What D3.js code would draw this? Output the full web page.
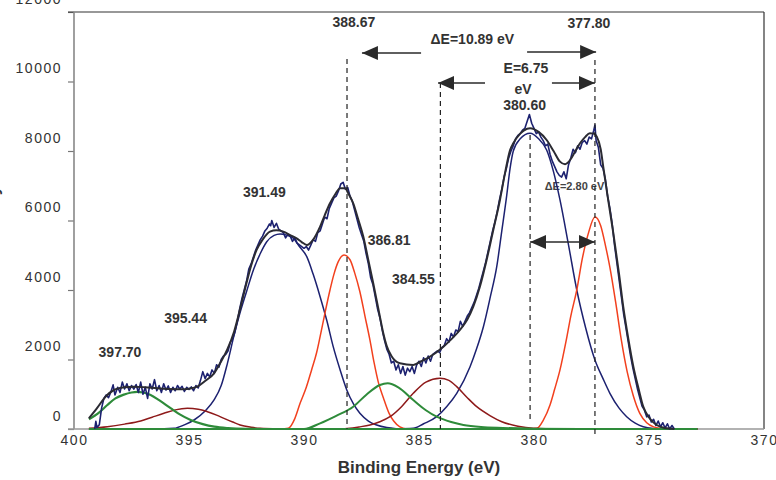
<!DOCTYPE html>
<html>
<head>
<meta charset="utf-8">
<script src="https://cdn.jsdelivr.net/npm/d3@7"></script>
<style>
  body { margin: 0; background: #fff; }
  svg { display: block; }
  text { font-family: Arial, "Liberation Sans", sans-serif; }
</style>
</head>
<body>
<div id="chart"></div>
<script>
// XPS spectrum with fitted components

const xTicks = [400, 395, 390, 385, 380, 375, 370];
const yTicks = [0, 2000, 4000, 6000, 8000, 10000, 12000];

// measured spectrum [binding energy, counts]
const rawData = [
  [399.1, 0], [399.05, 220], [399.0, 40], [398.9, 120], [398.8, 600], [398.7, 880], [398.6, 980],
  [398.5, 900], [398.4, 1060], [398.3, 1270], [398.22, 980], [398.1, 1200], [398.0, 1050],
  [397.9, 1350], [397.8, 1150], [397.7, 1300], [397.6, 1100], [397.5, 1250], [397.4, 1150],
  [397.3, 1280], [397.2, 1050], [397.1, 1350], [397.0, 1000], [396.9, 1200], [396.8, 880],
  [396.7, 1300], [396.6, 1150], [396.5, 1420], [396.4, 1100], [396.3, 1250], [396.2, 1050],
  [396.1, 1300], [396.0, 1120], [395.9, 1240], [395.8, 1050], [395.7, 1200], [395.6, 1100],
  [395.5, 1250], [395.4, 1150], [395.3, 1230], [395.2, 1080], [395.1, 1200], [395.0, 1140],
  [394.9, 1210], [394.8, 1100], [394.7, 1250], [394.6, 1180], [394.5, 1400], [394.4, 1650],
  [394.3, 1450], [394.2, 1600], [394.1, 1500], [394.0, 1700], [393.9, 1600], [393.8, 1850],
  [393.7, 1780], [393.6, 2000], [393.5, 2100], [393.4, 2150], [393.3, 2250], [393.2, 2500],
  [393.1, 2600], [393.0, 2800], [392.9, 3100], [392.8, 3450], [392.7, 3750], [392.6, 4000],
  [392.5, 4250], [392.4, 4600], [392.3, 4750], [392.2, 4950], [392.1, 5150], [392.0, 5300],
  [391.9, 5450], [391.8, 5550], [391.7, 5700], [391.6, 5780], [391.5, 5900], [391.45, 5850],
  [391.4, 6000], [391.3, 5800], [391.2, 5920], [391.1, 5750], [391.0, 5700], [390.9, 5650],
  [390.8, 5500], [390.7, 5600], [390.6, 5550], [390.5, 5400], [390.4, 5500], [390.3, 5350],
  [390.2, 5300], [390.1, 5250], [390.0, 5200], [389.9, 5250], [389.8, 5150], [389.7, 5300],
  [389.6, 5450], [389.5, 5400], [389.4, 5650], [389.3, 5700], [389.2, 5900], [389.1, 6100],
  [389.0, 6050], [388.9, 6350], [388.8, 6500], [388.7, 6650], [388.6, 6700], [388.5, 6850],
  [388.4, 7050], [388.3, 7100], [388.2, 6900], [388.1, 6950], [388.0, 6700], [387.9, 6550],
  [387.8, 6300], [387.7, 6050], [387.6, 5800], [387.5, 5600], [387.4, 5400], [387.3, 5050],
  [387.2, 4750], [387.1, 4350], [387.0, 4150], [386.9, 3800], [386.8, 3450], [386.7, 3200],
  [386.6, 2850], [386.5, 2550], [386.4, 2300], [386.3, 2150], [386.2, 1900], [386.1, 1950],
  [386.0, 1700], [385.9, 1850], [385.8, 1600], [385.7, 1800], [385.6, 1550], [385.5, 1750],
  [385.4, 1650], [385.3, 1800], [385.2, 1600], [385.1, 1850], [385.0, 1950], [384.9, 1800],
  [384.8, 2050], [384.7, 1900], [384.6, 2100], [384.5, 1950], [384.4, 2150], [384.3, 2200],
  [384.2, 2250], [384.1, 2200], [384.0, 2350], [383.9, 2400], [383.8, 2600], [383.7, 2500],
  [383.6, 2750], [383.5, 2650], [383.4, 2850], [383.3, 2800], [383.2, 3100], [383.1, 2950],
  [383.0, 3100], [382.9, 3250], [382.8, 3350], [382.7, 3500], [382.6, 3650], [382.5, 3850],
  [382.4, 4050], [382.3, 4300], [382.2, 4550], [382.1, 4800], [382.0, 5100], [381.9, 5400],
  [381.8, 5700], [381.7, 5950], [381.6, 6250], [381.5, 6600], [381.4, 6900], [381.3, 7250],
  [381.2, 7500], [381.1, 7800], [381.0, 8000], [380.9, 8150], [380.8, 8350], [380.7, 8450],
  [380.6, 8500], [380.5, 8600], [380.4, 8650], [380.3, 8850], [380.2, 9050], [380.1, 8800],
  [380.0, 8650], [379.9, 8500], [379.8, 8550], [379.7, 8400], [379.6, 8300], [379.5, 8150],
  [379.4, 8200], [379.3, 7900], [379.2, 7700], [379.1, 7550], [379.0, 7400], [378.9, 7300],
  [378.8, 7250], [378.7, 7400], [378.6, 7200], [378.5, 7600], [378.4, 7800], [378.3, 8050],
  [378.2, 7950], [378.1, 8150], [378.0, 8050], [377.9, 8250], [377.8, 8300], [377.7, 8200],
  [377.6, 8400], [377.5, 8350], [377.4, 8600], [377.35, 8750], [377.3, 8300], [377.2, 8100],
  [377.1, 7600], [377.0, 7500], [376.9, 7200], [376.8, 6700], [376.7, 6350], [376.6, 5900],
  [376.5, 5300], [376.4, 4800], [376.3, 4300], [376.2, 3800], [376.1, 3300], [376.0, 2900],
  [375.9, 2500], [375.8, 2100], [375.7, 1750], [375.6, 1450], [375.5, 1150], [375.4, 900],
  [375.3, 650], [375.2, 550], [375.1, 350], [375.0, 400], [374.9, 200], [374.8, 280],
  [374.7, 100], [374.6, 230], [374.5, 60], [374.4, 180], [374.3, 30], [374.2, 150],
  [374.1, 0], [374.0, 100], [373.9, 0]
];

// fitted envelope
const envelope = [
  [399.35, 307], [399.0, 600], [398.6, 950], [398.26, 1122], [397.8, 1200], [397.39, 1218],
  [396.9, 1200], [396.38, 1170], [395.9, 1150], [395.36, 1141], [395.0, 1160], [394.64, 1218],
  [394.3, 1380], [393.91, 1603], [393.6, 1950], [393.33, 2300], [393.04, 2800], [392.78, 3450],
  [392.5, 4200], [392.3, 4700], [392.06, 5152], [391.8, 5450], [391.48, 5680], [391.2, 5720],
  [390.9, 5680], [390.6, 5580], [390.32, 5488], [390.1, 5380], [389.88, 5296], [389.6, 5450],
  [389.3, 5822], [389.1, 6150], [388.87, 6496], [388.65, 6750], [388.43, 6928], [388.22, 6928],
  [388.05, 6750], [387.86, 6496], [387.65, 6050], [387.42, 5534], [387.2, 4850], [386.99, 4193],
  [386.84, 3700], [386.7, 3232], [386.55, 2750], [386.41, 2400], [386.2, 2100], [385.83, 1890],
  [385.25, 1842], [384.9, 1950], [384.52, 2081], [383.94, 2369], [383.6, 2580], [383.22, 2849],
  [382.9, 3150], [382.64, 3520], [382.35, 4100], [382.06, 4864], [381.78, 5700], [381.48, 6591],
  [381.25, 7400], [381.04, 8030], [380.9, 8222], [380.6, 8500], [380.3, 8640], [380.17, 8654],
  [379.8, 8550], [379.45, 8317], [379.15, 8000], [378.87, 7693], [378.65, 7620], [378.43, 7741],
  [378.2, 8000], [378.0, 8222], [377.78, 8400], [377.57, 8510], [377.4, 8500], [377.27, 8413],
  [377.1, 8050], [376.99, 7549], [376.8, 6700], [376.55, 5632], [376.3, 4450], [376.12, 3520],
  [375.9, 2600], [375.68, 1793], [375.45, 1150], [375.25, 642], [375.0, 330], [374.67, 115],
  [374.3, 30], [373.9, 0]
];

// fitted components
const blue1 = [
  [399.35, 0], [396.5, 0], [395.65, 20], [395.2, 120], [394.78, 259], [394.3, 520], [393.91, 835],
  [393.6, 1250], [393.33, 1890], [393.04, 2700], [392.8, 3300], [392.5, 3950], [392.2, 4576],
  [391.9, 5050], [391.62, 5390], [391.3, 5570], [391.04, 5612], [390.75, 5580], [390.46, 5488],
  [390.2, 5250], [389.88, 4959], [389.6, 4450], [389.3, 3808], [389.0, 3100], [388.73, 2369],
  [388.43, 1700], [388.14, 1122], [387.85, 720], [387.57, 451], [387.2, 230], [386.84, 115],
  [386.4, 40], [386.0, 10], [385.5, 0], [372.9, 0]
];
const blue2 = [
  [399.35, 0], [387.0, 0], [386.0, 5], [385.25, 20], [384.8, 150], [384.23, 354], [383.8, 640],
  [383.36, 1027], [382.78, 1793], [382.5, 2300], [382.2, 2944], [381.9, 3800], [381.62, 4671],
  [381.4, 5700], [381.19, 6700], [381.04, 7500], [380.9, 8000], [380.6, 8350], [380.17, 8510],
  [379.8, 8350], [379.45, 8030], [379.15, 7400], [378.87, 6591], [378.5, 5300], [378.14, 4000],
  [377.75, 2900], [377.35, 1986], [377.0, 1450], [376.7, 1027], [376.3, 600], [375.97, 354],
  [375.6, 170], [375.25, 66], [374.8, 15], [374.3, 0], [372.9, 0]
];
const red1 = [
  [399.35, 0], [391.0, 0], [390.68, 20], [390.4, 300], [390.17, 740], [389.9, 1200], [389.67, 1700],
  [389.45, 2200], [389.3, 2656], [389.1, 3300], [388.87, 4000], [388.7, 4450], [388.51, 4815],
  [388.26, 5008], [388.0, 4870], [387.8, 4500], [387.57, 3950], [387.35, 3250], [387.13, 2550],
  [386.95, 1900], [386.77, 1350], [386.55, 900], [386.3, 450], [386.1, 230], [385.83, 60],
  [385.5, 0], [372.9, 0]
];
const red2 = [
  [399.35, 0], [380.2, 0], [379.87, 20], [379.6, 250], [379.3, 700], [379.1, 1150], [378.87, 1700],
  [378.6, 2550], [378.4, 3250], [378.14, 4000], [377.9, 4900], [377.65, 5600], [377.35, 6100],
  [377.1, 5850], [376.9, 5300], [376.7, 4650], [376.45, 3650], [376.2, 2550], [375.95, 1650],
  [375.68, 950], [375.4, 450], [375.1, 180], [374.8, 60], [374.5, 15], [374.2, 0], [372.9, 0]
];
const darkred1 = [
  [399.35, 20], [398.55, 66], [397.8, 140], [397.1, 230], [396.6, 340], [396.09, 451], [395.6, 550],
  [395.07, 596], [394.6, 570], [394.2, 498], [393.8, 400], [393.48, 307], [393.1, 200], [392.78, 115],
  [392.3, 50], [391.91, 20], [391.0, 5], [390.0, 0], [372.9, 0]
];
const darkred2 = [
  [399.35, 0], [388.5, 0], [387.6, 60], [387.13, 115], [386.7, 210], [386.26, 354], [385.75, 650],
  [385.25, 1027], [384.7, 1350], [384.09, 1459], [383.7, 1400], [383.36, 1218], [382.9, 900],
  [382.49, 642], [381.9, 380], [381.4, 210], [380.7, 80], [380.03, 20], [379.0, 0], [372.9, 0]
];
const green1 = [
  [399.35, 280], [398.9, 480], [398.55, 690], [398.2, 880], [397.83, 990], [397.5, 1050],
  [397.25, 1070], [397.0, 1050], [396.67, 980], [396.3, 830], [395.8, 600], [395.4, 420],
  [394.93, 260], [394.4, 140], [393.9, 66], [393.3, 25], [392.5, 5], [391.5, 0], [372.9, 0]
];
const green2 = [
  [399.35, 0], [390.0, 0], [389.3, 164], [388.6, 380], [387.86, 642], [387.3, 980], [386.7, 1266],
  [386.36, 1315], [385.9, 1200], [385.25, 835], [384.7, 540], [384.23, 354], [383.6, 200],
  [383.07, 115], [382.3, 55], [381.35, 30], [380.0, 10], [378.0, 0], [372.9, 0]
];

// annotations in data coordinates
const peakLabels = [
  { text: "397.70", e: 398.0, v: 2070 },
  { text: "395.44", e: 395.15, v: 3050 },
  { text: "391.49", e: 391.72, v: 6680 },
  { text: "388.67", e: 387.83, v: 11570 },
  { text: "386.81", e: 386.3, v: 5295 },
  { text: "384.55", e: 385.24, v: 4173 },
  { text: "377.80", e: 377.61, v: 11540 },
  { text: "ΔE=10.89 eV", e: 382.68, v: 11079 },
  { text: "E=6.75", e: 380.35, v: 10245 },
  { text: "eV", e: 380.48, v: 9640 },
  { text: "380.60", e: 380.41, v: 9180 }
];
const dashLines = [
  { e: 388.13, top: 10648, bottom: 0 },
  { e: 384.07, top: 9957, bottom: 0 },
  { e: 380.17, top: 8460, bottom: 259 },
  { e: 377.35, top: 10619, bottom: -230 }
];
const arrows = [
  { from: 384.91, to: 387.48, v: 10820, both: false },
  { from: 380.30, to: 377.30, v: 10849, both: false },
  { from: 382.13, to: 384.17, v: 9957, both: false },
  { from: 379.22, to: 377.35, v: 9957, both: false },
  { from: 380.17, to: 377.35, v: 5381, both: true }
];

const W = 776, H = 480;

const svg = d3.select("#chart").append("svg")
  .attr("width", W)
  .attr("height", H);

const x = d3.scaleLinear().domain([400, 370]).range([74, 764]);
const y = d3.scaleLinear().domain([0, 12000]).range([429, 12]);

const defs = svg.append("defs");
defs.append("marker")
  .attr("id", "head")
  .attr("viewBox", "0 0 16 14")
  .attr("refX", 16).attr("refY", 7)
  .attr("markerWidth", 16).attr("markerHeight", 14)
  .attr("markerUnits", "userSpaceOnUse")
  .attr("orient", "auto-start-reverse")
  .append("path")
  .attr("d", "M0,0 L16,7 L0,14 Z")
  .attr("fill", "#2a2a2a");

// axes
const yAxis = svg.append("g")
  .attr("transform", `translate(${x(400)},0)`)
  .call(d3.axisLeft(y).tickValues(yTicks).tickSize(6).tickPadding(6).tickFormat(d3.format("d")));
yAxis.select(".domain").remove();
yAxis.selectAll("line").attr("stroke", "#777").attr("stroke-width", 1.2);
yAxis.selectAll("text")
  .attr("dy", 0).attr("y", -9)
  .attr("font-size", 14).attr("letter-spacing", 1.5)
  .attr("fill", "#333").attr("font-family", "Arial, 'Liberation Sans', sans-serif");

const xAxis = svg.append("g")
  .attr("transform", `translate(0,${y(0)})`)
  .call(d3.axisBottom(x).tickValues(xTicks).tickSize(0).tickPadding(6));
xAxis.select(".domain").remove();
xAxis.selectAll("text")
  .attr("font-size", 14).attr("letter-spacing", 1.5)
  .attr("fill", "#333").attr("font-family", "Arial, 'Liberation Sans', sans-serif");

// frame
svg.append("line").attr("x1", x(400) - 6).attr("x2", x(370)).attr("y1", y(12000)).attr("y2", y(12000))
  .attr("stroke", "#333").attr("stroke-width", 1.2);
svg.append("line").attr("x1", x(370)).attr("x2", x(370)).attr("y1", y(12000)).attr("y2", y(0))
  .attr("stroke", "#333").attr("stroke-width", 1.2);
svg.append("line").attr("x1", x(400)).attr("x2", x(400)).attr("y1", y(12000)).attr("y2", y(0))
  .attr("stroke", "#888").attr("stroke-width", 1.6);
svg.append("line").attr("x1", x(400) - 6).attr("x2", x(370)).attr("y1", y(0)).attr("y2", y(0))
  .attr("stroke", "#999").attr("stroke-width", 1.6);

// axis titles
svg.append("text")
  .attr("x", x(385)).attr("y", 473)
  .attr("text-anchor", "middle")
  .attr("font-size", 17).attr("font-weight", "bold").attr("fill", "#333")
  .text("Binding Energy (eV)");
svg.append("text")
  .attr("transform", `translate(-1,186) rotate(-90)`)
  .attr("text-anchor", "end")
  .attr("font-size", 16).attr("font-weight", "bold").attr("fill", "#333")
  .text("Intensity");

// small label sits under the curves
svg.append("text")
  .attr("x", x(378.24)).attr("y", y(6878))
  .attr("text-anchor", "middle")
  .attr("font-size", 11).attr("font-weight", "bold").attr("fill", "#444")
  .text("ΔE=2.80 eV");

const line = d3.line()
  .x(d => x(d[0]))
  .y(d => y(d[1]))
  .curve(d3.curveMonotoneX);

const comps = [
  { data: blue1, color: "#1c2170", w: 1.5 },
  { data: blue2, color: "#1c2170", w: 1.5 },
  { data: red1, color: "#f2401e", w: 1.5 },
  { data: red2, color: "#f2401e", w: 1.5 },
  { data: darkred1, color: "#8e1a1a", w: 1.5 },
  { data: darkred2, color: "#8e1a1a", w: 1.5 },
  { data: green1, color: "#2e8b3a", w: 2.2 },
  { data: green2, color: "#2e8b3a", w: 2 }
];

svg.append("g")
  .selectAll("path")
  .data(comps)
  .join("path")
  .attr("d", d => line(d.data))
  .attr("fill", "none")
  .attr("stroke", d => d.color)
  .attr("stroke-width", d => d.w);

svg.append("path")
  .attr("d", d3.line().x(d => x(d[0])).y(d => y(d[1]))(rawData))
  .attr("fill", "none")
  .attr("stroke", "#1c2170")
  .attr("stroke-width", 1.6)
  .attr("stroke-linejoin", "round");

svg.append("path")
  .attr("d", line(envelope))
  .attr("fill", "none")
  .attr("stroke", "#2b2b33")
  .attr("stroke-width", 2);

// dashed guide lines
svg.append("g")
  .selectAll("line")
  .data(dashLines)
  .join("line")
  .attr("x1", d => x(d.e)).attr("x2", d => x(d.e))
  .attr("y1", d => y(d.top)).attr("y2", d => y(d.bottom))
  .attr("stroke", "#222")
  .attr("stroke-width", 1.2)
  .attr("stroke-dasharray", "5,4");

// arrows
svg.append("g")
  .selectAll("line")
  .data(arrows)
  .join("line")
  .attr("x1", d => x(d.from)).attr("x2", d => x(d.to))
  .attr("y1", d => y(d.v)).attr("y2", d => y(d.v))
  .attr("stroke", "#2a2a2a")
  .attr("stroke-width", 1.6)
  .attr("marker-end", "url(#head)")
  .attr("marker-start", d => d.both ? "url(#head)" : null);

// peak labels
svg.append("g")
  .selectAll("text")
  .data(peakLabels)
  .join("text")
  .attr("x", d => x(d.e))
  .attr("y", d => y(d.v))
  .attr("text-anchor", "middle")
  .attr("font-size", 14)
  .attr("font-weight", "bold")
  .attr("fill", "#333")
  .text(d => d.text);
</script>
</body>
</html>
